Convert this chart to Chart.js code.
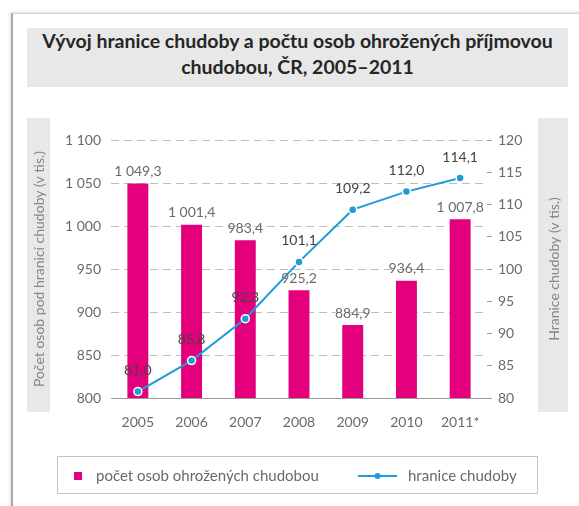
<!DOCTYPE html>
<html lang="cs">
<head>
<meta charset="UTF-8">
<title>Vývoj hranice chudoby a počtu osob ohrožených příjmovou chudobou, ČR, 2005–2011</title>
<script src="https://cdn.jsdelivr.net/npm/chart.js"></script>
<style>
    html, body {
        margin: 0;
        padding: 0;
        background: #fff;
    }
    body {
        width: 579px;
        height: 506px;
        position: relative;
        overflow: hidden;
        font-family: Lato, "Open Sans", sans-serif;
    }
    .frame {
        position: absolute;
        left: 11px;
        top: 13px;
        width: 620px;
        height: 540px;
        border-left: 2px solid #a8a8a8;
        border-top: 1px solid #cfcfcf;
        box-shadow: -1px -1px 3px rgba(0,0,0,0.12);
    }
    .title {
        position: absolute;
        left: 27px;
        top: 28px;
        width: 541px;
        height: 59px;
        background: #e8e8e8;
        text-align: center;
        font-weight: bold;
        font-size: 19.5px;
        line-height: 26px;
        padding-top: 0;
        box-sizing: border-box;
        color: #262626;
    }
    #chart {
        position: absolute;
        left: 0;
        top: 0;
    }
</style>
</head>
<body>
<div class="frame"></div>
<div class="title">Vývoj hranice chudoby a počtu osob ohrožených příjmovou<br>chudobou, ČR, 2005–2011</div>
<canvas id="chart" width="579" height="506"></canvas>

<script>
// data
const years = ['2005', '2006', '2007', '2008', '2009', '2010', '2011*'];
const persons = [1049.3, 1001.4, 983.4, 925.2, 884.9, 936.4, 1007.8];      // počet osob (v tis.)
const povertyLine = [81.0, 85.8, 92.3, 101.1, 109.2, 112.0, 114.1];         // hranice chudoby (v tis.)
const leftAxis = { min: 800, max: 1100, step: 50 };
const rightAxis = { min: 80, max: 120, step: 5 };

const PINK = '#e4007c';
const BLUE = '#1f9bd7';
const FONT = 'Lato, "Open Sans", sans-serif';

// "1049.3" -> "1 049,3"
function fmt(v, dec) {
    const parts = v.toFixed(dec).split('.');
    const whole = parts[0].replace(/\B(?=(\d{3})+(?!\d))/g, ' ');
    return dec ? whole + ',' + parts[1] : whole;
}

// gray strips with axis titles, value labels, legend
const decorations = {
    id: 'decorations',
    beforeDraw(chart) {
        const ctx = chart.ctx;
        const a = chart.chartArea;
        const top = a.top - 22, bottom = a.bottom + 14;
        ctx.save();
        ctx.fillStyle = '#e8e8e8';
        ctx.fillRect(27, top, 23, bottom - top);
        ctx.fillRect(538, top, 30, bottom - top);

        ctx.fillStyle = '#858585';
        ctx.font = '14px ' + FONT;
        ctx.textAlign = 'center';
        ctx.textBaseline = 'middle';
        const midY = (a.top + a.bottom) / 2;
        ctx.translate(39, midY);
        ctx.rotate(-Math.PI / 2);
        ctx.fillText('Počet osob pod hranicí chudoby (v tis.)', 0, 0);
        ctx.restore();

        ctx.save();
        ctx.fillStyle = '#858585';
        ctx.font = '14px ' + FONT;
        ctx.textAlign = 'center';
        ctx.textBaseline = 'middle';
        ctx.translate(554, midY);
        ctx.rotate(-Math.PI / 2);
        ctx.fillText('Hranice chudoby (v tis.)', 0, 0);
        ctx.restore();
    },
    afterDatasetsDraw(chart) {
        const ctx = chart.ctx;
        ctx.save();
        ctx.font = '14px ' + FONT;
        ctx.textAlign = 'center';
        ctx.textBaseline = 'middle';
        ctx.fillStyle = '#6a6a6a';
        chart.getDatasetMeta(1).data.forEach((bar, i) => {
            ctx.fillText(fmt(persons[i], 1), bar.x, bar.y - 12);
        });
        ctx.fillStyle = '#444';
        chart.getDatasetMeta(0).data.forEach((pt, i) => {
            ctx.fillText(fmt(povertyLine[i], 1), pt.x, pt.y - 21);
        });
        ctx.restore();
    },
    afterDraw(chart) {
        const ctx = chart.ctx;
        const y = 476;
        ctx.save();
        ctx.strokeStyle = '#c4c4c4';
        ctx.lineWidth = 1;
        ctx.strokeRect(57.5, 456.5, 480, 37);

        ctx.fillStyle = PINK;
        ctx.fillRect(74, y - 4, 8, 8);

        ctx.strokeStyle = BLUE;
        ctx.lineWidth = 2;
        ctx.beginPath();
        ctx.moveTo(358, y);
        ctx.lineTo(397, y);
        ctx.stroke();
        ctx.fillStyle = BLUE;
        ctx.beginPath();
        ctx.arc(377.5, y, 3, 0, Math.PI * 2);
        ctx.fill();

        ctx.fillStyle = '#6a6a6a';
        ctx.font = '15px ' + FONT;
        ctx.textBaseline = 'middle';
        ctx.textAlign = 'left';
        ctx.fillText(chart.data.datasets[1].label, 96, y);
        ctx.fillText(chart.data.datasets[0].label, 408, y);
        ctx.restore();
    }
};

new Chart(document.getElementById('chart'), {
    data: {
        labels: years,
        datasets: [
            {
                type: 'line',
                label: 'hranice chudoby',
                data: povertyLine,
                yAxisID: 'y1',
                borderColor: BLUE,
                borderWidth: 2,
                pointBackgroundColor: BLUE,
                pointBorderColor: '#fff',
                pointBorderWidth: 1.5,
                pointRadius: 4,
                tension: 0,
                order: 0
            },
            {
                type: 'bar',
                label: 'počet osob ohrožených chudobou',
                data: persons,
                yAxisID: 'y',
                backgroundColor: PINK,
                categoryPercentage: 1,
                barPercentage: 0.39,
                order: 1
            }
        ]
    },
    options: {
        responsive: false,
        animation: false,
        layout: {
            padding: { left: 50, right: 40, top: 140, bottom: 48 }
        },
        plugins: {
            legend: { display: false },
            tooltip: { enabled: false }
        },
        scales: {
            x: {
                grid: { display: false, drawTicks: false },
                border: { display: true, color: '#9a9a9a', width: 1 },
                ticks: { color: '#6a6a6a', font: { family: FONT, size: 14 }, padding: 16 },
                afterFit: s => { s.height = 60; }
            },
            y: {
                position: 'left',
                min: leftAxis.min,
                max: leftAxis.max,
                grid: { color: '#bdbdbd', drawTicks: false },
                border: { display: false, dash: [8, 5] },
                ticks: {
                    stepSize: leftAxis.step,
                    color: '#6a6a6a',
                    font: { family: FONT, size: 14 },
                    padding: 10,
                    callback: v => fmt(v, 0)
                },
                afterFit: s => { s.width = 61; }
            },
            y1: {
                position: 'right',
                min: rightAxis.min,
                max: rightAxis.max,
                grid: { drawOnChartArea: false, drawTicks: true, tickLength: 5, tickColor: '#9a9a9a' },
                border: { display: false },
                ticks: {
                    stepSize: rightAxis.step,
                    color: '#6a6a6a',
                    font: { family: FONT, size: 14 },
                    padding: 6
                },
                afterFit: s => { s.width = 52; }
            }
        }
    },
    plugins: [decorations]
});
</script>
</body>
</html>
